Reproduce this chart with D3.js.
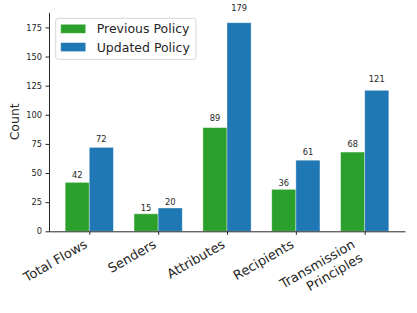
<!DOCTYPE html>
<html>
<head>
<meta charset="utf-8">
<script src="https://cdn.jsdelivr.net/npm/d3@7/dist/d3.min.js"></script>
<style>
  html, body { margin: 0; padding: 0; background: #fff; }
  svg { display: block; font-family: 'DejaVu Sans', sans-serif; }
</style>
</head>
<body>
<div id="container"></div>
<script>
const categories = ['Total Flows', 'Senders', 'Attributes', 'Recipients', 'Transmission\nPrinciples']
const previousPolicy = [42, 15, 89, 36, 68]
const updatedPolicy = [72, 20, 179, 61, 121]
const seriesNames = ['Previous Policy', 'Updated Policy']
const yTicks = [0, 25, 50, 75, 100, 125, 150, 175]

const width = 417
const height = 313
const margin = { top: 12.3, right: 12, bottom: 81.7, left: 49 }
const barWidth = 0.35
const colors = ['#2ca02c', '#1f77b4']
const series = [previousPolicy, updatedPolicy]

const svg = d3.select('#container')
  .append('svg')
  .attr('width', width)
  .attr('height', height)

const xScale = d3.scaleLinear()
  .domain([-0.585, categories.length - 1 + 0.585])
  .range([margin.left, width - margin.right])
const yScale = d3.scaleLinear()
  .domain([0, d3.max(updatedPolicy) * 1.05])
  .range([height - margin.bottom, margin.top])

// bars
series.forEach((values, s) => {
  const offset = s === 0 ? -barWidth : 0
  svg.append('g')
    .selectAll('rect')
    .data(values)
    .join('rect')
    .attr('x', (d, i) => xScale(i + offset))
    .attr('y', d => yScale(d))
    .attr('width', xScale(barWidth) - xScale(0))
    .attr('height', d => yScale(0) - yScale(d))
    .attr('fill', colors[s])
    .attr('stroke', 'rgba(255,255,255,0.45)')
    .attr('stroke-width', 0.8)

  svg.append('g')
    .selectAll('text')
    .data(values)
    .join('text')
    .attr('x', (d, i) => xScale(i + offset + barWidth / 2))
    .attr('y', d => yScale(d * 1.05) - 1.5)
    .attr('text-anchor', 'middle')
    .attr('font-size', 8.3)
    .attr('fill', '#262626')
    .text(d => d)
})

// y axis
const yAxis = svg.append('g')
  .attr('transform', `translate(${margin.left},0)`)
  .call(d3.axisLeft(yScale).tickValues(yTicks).tickSize(3.5).tickPadding(3.5).tickSizeOuter(0))
yAxis.select('.domain').attr('stroke', '#262626').attr('stroke-width', 1)
yAxis.selectAll('.tick line').attr('stroke', '#262626')
yAxis.selectAll('.tick text').attr('font-size', 8.3).attr('fill', '#262626')
  .attr('font-family', 'DejaVu Sans')

// x axis
const xAxis = svg.append('g')
  .attr('transform', `translate(0,${yScale(0)})`)
  .call(d3.axisBottom(xScale).tickValues(d3.range(categories.length)).tickFormat('').tickSize(3.5).tickSizeOuter(0))
xAxis.select('.domain').attr('stroke', '#262626').attr('stroke-width', 1)
xAxis.selectAll('.tick line').attr('stroke', '#262626')

// rotated labels: right edge of the rotated box on the tick, top edge below the tick
const fs = 13
const asc = 0.76 * fs
const desc = 0.24 * fs
xAxis.selectAll('.tick').each(function (d) {
  const lines = categories[d].split('\n')
  const bottom = (lines.length - 1) * 1.2 * fs + desc
  const dx = -0.5 * bottom
  const dy = 7 + 0.866 * asc
  const t = d3.select(this).append('text')
    .attr('transform', `translate(${dx},${dy}) rotate(-30)`)
    .attr('text-anchor', 'end')
    .attr('font-size', fs)
    .attr('fill', '#262626')
    .attr('font-family', 'DejaVu Sans')
  lines.forEach((line, k) => {
    t.append('tspan')
      .attr('x', 0)
      .attr('y', k * 1.2 * fs)
      .text(line)
  })
})

// y label
svg.append('text')
  .attr('transform', `translate(19,${(yScale(0) + margin.top) / 2}) rotate(-90)`)
  .attr('text-anchor', 'middle')
  .attr('font-size', 12.5)
  .attr('fill', '#262626')
  .text('Count')

// legend
const legend = svg.append('g').attr('transform', 'translate(55.7,18.3)')
legend.append('rect')
  .attr('width', 140.3)
  .attr('height', 41)
  .attr('rx', 2.5)
  .attr('fill', 'rgba(255,255,255,0.8)')
  .attr('stroke', '#cccccc')
  .attr('stroke-width', 0.8)
seriesNames.forEach((name, s) => {
  const row = legend.append('g').attr('transform', `translate(5,${6 + s * 18.3})`)
  row.append('rect')
    .attr('width', 25)
    .attr('height', 9)
    .attr('fill', colors[s])
    .attr('stroke', 'rgba(255,255,255,0.45)')
    .attr('stroke-width', 0.8)
  row.append('text')
    .attr('x', 36)
    .attr('y', 4.7)
    .attr('dy', '0.35em')
    .attr('font-size', 12.5)
    .attr('fill', '#262626')
    .text(name)
})
</script>
</body>
</html>
